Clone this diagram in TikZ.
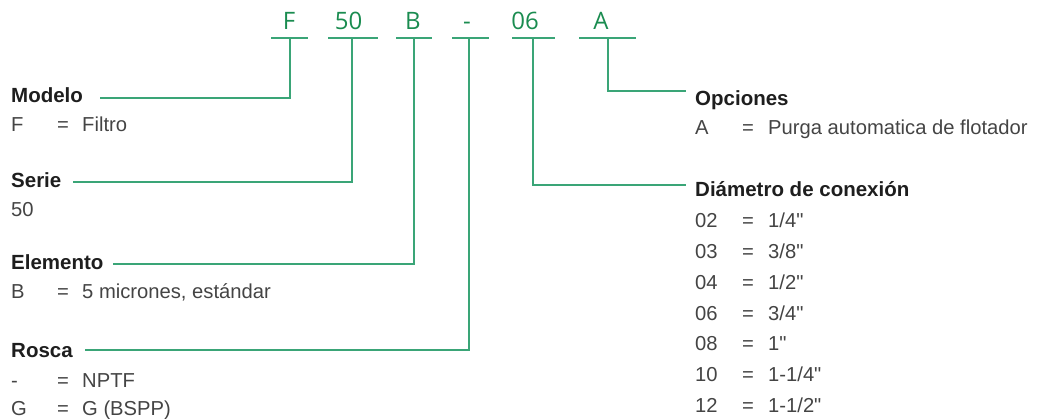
\documentclass[tikz,border=0pt]{standalone}
\usepackage{fontspec}
\setmainfont{Liberation Sans}
\newfontfamily\bodyfont{Liberation Sans}
\newfontfamily\hdrfont{Open Sans}
\definecolor{hgreen}{HTML}{1A8C50}
\definecolor{lgreen}{HTML}{3AA577}
\definecolor{txtgray}{HTML}{444444}
\definecolor{txtdark}{HTML}{1E1E1E}
\tikzset{
  code/.style={anchor=base, inner sep=0pt, text=hgreen, font=\hdrfont\fontsize{24}{28}\selectfont},
  head/.style={anchor=base west, inner sep=0pt, text=txtdark, font=\bodyfont\fontsize{20.5}{24}\selectfont\bfseries},
  item/.style={anchor=base west, inner sep=0pt, text=txtgray, font=\bodyfont\fontsize{20.2}{24}\selectfont},
  gl/.style={draw=lgreen, line width=1.2pt},
}
\begin{document}
\begin{tikzpicture}[x=1pt,y=-1pt]
\useasboundingbox (0,0) rectangle (1037,419);
% header codes
\node[code] (cF) at (289,30) {F};
\node[code] (c50) at (348.5,30) {50};
\node[code] (cB) at (413,30) {B};
\node[code] (cR) at (467,30) {-};
\node[code] (c06) at (525,30) {06};
\node[code] (cA) at (601,30) {A};
% underlines
\coordinate (uF1) at (271,38); \coordinate (uF2) at (308,38);
\coordinate (u501) at (328,38); \coordinate (u502) at (378,38);
\coordinate (uB1) at (396,38); \coordinate (uB2) at (432,38);
\coordinate (uR1) at (452,38); \coordinate (uR2) at (489,38);
\coordinate (u061) at (512,38); \coordinate (u062) at (555,38);
\coordinate (uA1) at (579,38); \coordinate (uA2) at (636,38);
\draw[gl] (uF1) -- (uF2);
\draw[gl] (u501) -- (u502);
\draw[gl] (uB1) -- (uB2);
\draw[gl] (uR1) -- (uR2);
\draw[gl] (u061) -- (u062);
\draw[gl] (uA1) -- (uA2);
% drop points
\coordinate (dF) at (290,38);
\coordinate (d50) at (352,38);
\coordinate (dB) at (414,38);
\coordinate (dR) at (469,38);
\coordinate (d06) at (533,38);
\coordinate (dA) at (608,38);
% left column
\node[head] (hModelo) at (11,103) {Modelo};
\node[item] (kF) at (11,132) {F};
\node[item] (eF) at (57,132) {=};
\node[item] (vF) at (82,132) {Filtro};
\node[head] (hSerie) at (11,188) {Serie};
\node[item] (k50) at (11,217) {50};
\node[head] (hElem) at (11,270) {Elemento};
\node[item] (kB) at (11,299) {B};
\node[item] (eB) at (57,299) {=};
\node[item] (vB) at (82,299) {5 micrones, estándar};
\node[head] (hRosca) at (11,358) {Rosca};
\node[item] (kN) at (11,388) {-};
\node[item] (eN) at (57,388) {=};
\node[item] (vN) at (82,388) {NPTF};
\node[item] (kG) at (11,416) {G};
\node[item] (eG) at (57,416) {=};
\node[item] (vG) at (82,416) {G (BSPP)};
% left connector ends
\coordinate (eModelo) at (100,98);
\coordinate (eSerie) at (73,182);
\coordinate (eElem) at (113,264);
\coordinate (eRosca) at (85,350);
\draw[gl] (dF) |- (eModelo);
\draw[gl] (d50) |- (eSerie);
\draw[gl] (dB) |- (eElem);
\draw[gl] (dR) |- (eRosca);
% right column
\node[head] (hOpc) at (695,106) {Opciones};
\node[item] (kA) at (695,135) {A};
\node[item] (eA) at (742,135) {=};
\node[item] (vA) at (768,135) {Purga automatica de flotador};
\node[head] (hDiam) at (695,197) {Diámetro de conexión};
\foreach \k/\v [count=\i from 0] in {02/1\slash 4",03/3\slash 8",04/1\slash 2",06/3\slash 4",08/1",10/1-1\slash 4",12/1-1\slash 2"}{
  \node[item] (k\k) at (695,228+30.67*\i) {\k};
  \node[item] (e\k) at (742,228+30.67*\i) {=};
  \node[item] (v\k) at (768,228+30.67*\i) {\v};
}
\coordinate (eOpc) at (686,91);
\coordinate (eDiam) at (686,185);
\draw[gl] (dA) |- (eOpc);
\draw[gl] (d06) |- (eDiam);
\end{tikzpicture}
\end{document}
